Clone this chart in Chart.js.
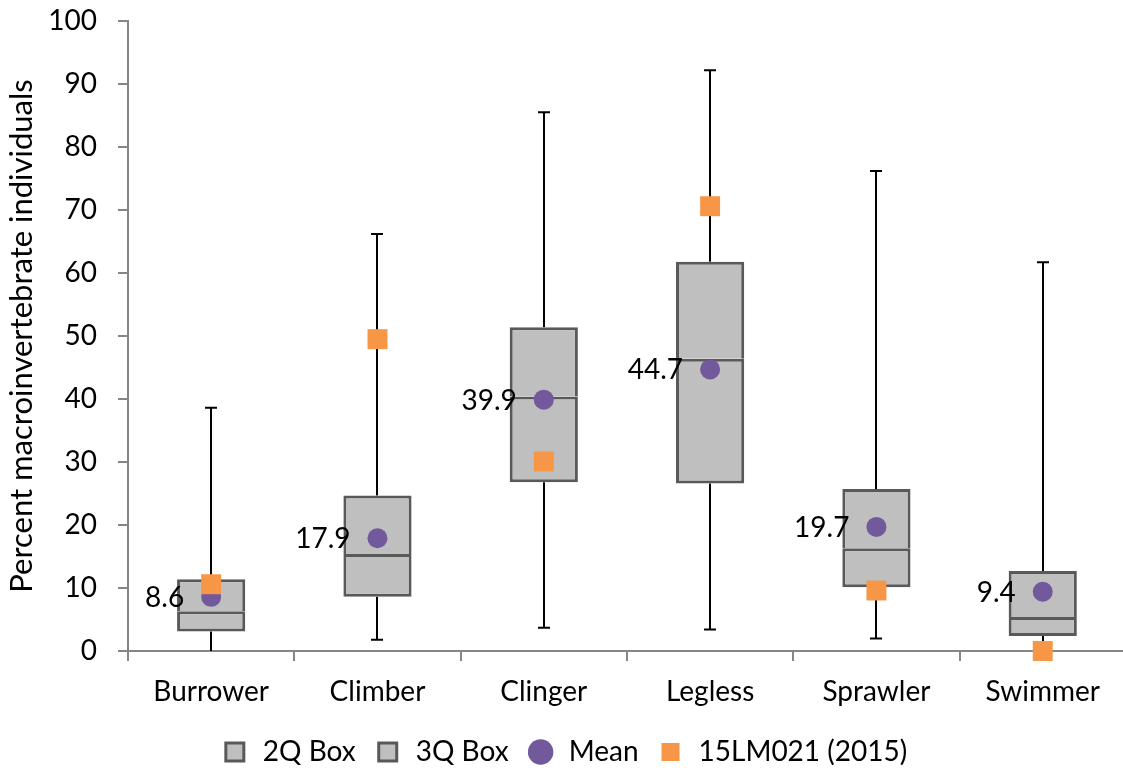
<!DOCTYPE html>
<html>
<head>
<meta charset="utf-8">
<script src="https://cdn.jsdelivr.net/npm/chart.js@4"></script>
<style>
html, body { margin: 0; padding: 0; background: #fff; overflow: hidden; }
</style>
</head>
<body>
<canvas id="myChart" width="1140" height="776"></canvas>
<script>
// box plot values
var categories = ["Burrower", "Climber", "Clinger", "Legless", "Sprawler", "Swimmer"];
var whiskerLow = [0, 1.8, 3.7, 3.4, 2.0, 0];
var q1 = [3.1, 8.6, 26.8, 26.6, 10.1, 2.4];
var median = [6.3, 15.4, 40.4, 46.4, 16.3, 5.4];
var q3 = [11.4, 24.7, 51.4, 61.8, 25.7, 12.7];
var whiskerHigh = [38.6, 66.2, 85.5, 92.2, 76.2, 61.7];
var means = [8.6, 17.9, 39.9, 44.7, 19.7, 9.4];
var site2015 = [10.6, 49.5, 30.1, 70.6, 9.6, 0];
var yMin = 0, yMax = 100, yStep = 10;

var box2Q = [], box3Q = [];
for (var i = 0; i < categories.length; i++) {
    box2Q.push([q1[i], median[i]]);
    box3Q.push([median[i], q3[i]]);
}

Chart.defaults.font.family = "Lato, 'Open Sans', sans-serif";
Chart.defaults.color = '#000';

// whiskers: q3 -> max and min -> q1, with caps
var whiskerPlugin = {
    id: 'whiskers',
    beforeDatasetsDraw: function (chart) {
        var ctx = chart.ctx, xs = chart.scales.x, ys = chart.scales.y;
        ctx.save();
        ctx.strokeStyle = '#000';
        ctx.lineWidth = 2;
        for (var i = 0; i < categories.length; i++) {
            var px = Math.round(xs.getPixelForValue(i));
            var top = ys.getPixelForValue(whiskerHigh[i]);
            var bot = ys.getPixelForValue(whiskerLow[i]);
            ctx.beginPath();
            ctx.moveTo(px, top); ctx.lineTo(px, ys.getPixelForValue(q3[i]));
            ctx.moveTo(px, bot); ctx.lineTo(px, ys.getPixelForValue(q1[i]));
            ctx.moveTo(px - 6, top); ctx.lineTo(px + 6, top);
            if (whiskerLow[i] > 0) { ctx.moveTo(px - 6, bot); ctx.lineTo(px + 6, bot); }
            ctx.stroke();
        }
        ctx.restore();
    }
};

// mean value labels left of the dot
var meanLabels = {
    id: 'meanLabels',
    afterDatasetsDraw: function (chart) {
        var ctx = chart.ctx, xs = chart.scales.x, ys = chart.scales.y;
        ctx.save();
        ctx.font = "28px Lato, 'Open Sans', sans-serif";
        ctx.fillStyle = '#000';
        ctx.textAlign = 'right';
        ctx.textBaseline = 'middle';
        for (var i = 0; i < categories.length; i++) {
            ctx.fillText(means[i].toFixed(1), xs.getPixelForValue(i) - 27, ys.getPixelForValue(means[i]) + 1);
        }
        ctx.restore();
    }
};

var ctx = document.getElementById('myChart').getContext('2d');
var myChart = new Chart(ctx, {
    type: 'bar',
    data: {
        labels: categories,
        datasets: [{
            label: '2Q Box',
            data: box2Q,
            backgroundColor: '#bfbfbf',
            borderColor: '#595959',
            borderWidth: 3,
            borderSkipped: false,
            grouped: false,
            barPercentage: 0.41,
            categoryPercentage: 1,
            pointStyle: 'rect',
            order: 3
        }, {
            label: '3Q Box',
            data: box3Q,
            backgroundColor: '#bfbfbf',
            borderColor: '#595959',
            borderWidth: 3,
            borderSkipped: 'bottom',
            grouped: false,
            barPercentage: 0.41,
            categoryPercentage: 1,
            pointStyle: 'rect',
            order: 2
        }, {
            label: 'Mean',
            type: 'line',
            data: means,
            showLine: false,
            backgroundColor: '#71599b',
            borderColor: '#71599b',
            pointBackgroundColor: '#71599b',
            pointBorderColor: '#71599b',
            pointBorderWidth: 0,
            pointRadius: 10,
            pointHoverRadius: 10,
            pointStyle: 'circle',
            clip: false,
            order: 1
        }, {
            label: '15LM021 (2015)',
            type: 'line',
            data: site2015,
            showLine: false,
            backgroundColor: '#f79646',
            borderColor: '#f79646',
            pointBackgroundColor: '#f79646',
            pointBorderColor: '#f79646',
            pointBorderWidth: 0,
            pointRadius: 14.1,
            pointHoverRadius: 14.1,
            pointStyle: 'rect',
            clip: false,
            order: 0
        }]
    },
    options: {
        responsive: false,
        animation: false,
        layout: { padding: { top: 0, right: 12, left: 0, bottom: 0 } },
        plugins: {
            tooltip: { enabled: false },
            legend: {
                position: 'bottom',
                labels: {
                    usePointStyle: true,
                    boxHeight: 18,
                    padding: 18,
                    font: { size: 28 },
                    color: '#000',
                    sort: function (a, b) { return a.datasetIndex - b.datasetIndex; }
                }
            }
        },
        scales: {
            x: {
                offset: true,
                afterFit: function (scale) { scale.height = 69; },
                grid: { offset: true, drawOnChartArea: false, tickLength: 10, color: '#868686', lineWidth: 2 },
                border: { color: '#868686', width: 2 },
                ticks: { font: { size: 28 }, color: '#000', padding: 14 }
            },
            y: {
                min: yMin,
                max: yMax,
                afterFit: function (scale) {
                    scale.width = 128;
                    scale.paddingTop = 21;
                    scale.paddingBottom = 17;
                },
                ticks: { stepSize: yStep, font: { size: 28 }, color: '#000', padding: 21 },
                grid: { drawOnChartArea: false, tickLength: 10, color: '#868686', lineWidth: 2 },
                border: { color: '#868686', width: 2 },
                title: {
                    display: true,
                    text: 'Percent macroinvertebrate individuals',
                    font: { size: 31 },
                    color: '#000',
                    padding: { top: 3, bottom: 4 }
                }
            }
        }
    },
    plugins: [whiskerPlugin, meanLabels]
});
</script>
</body>
</html>
